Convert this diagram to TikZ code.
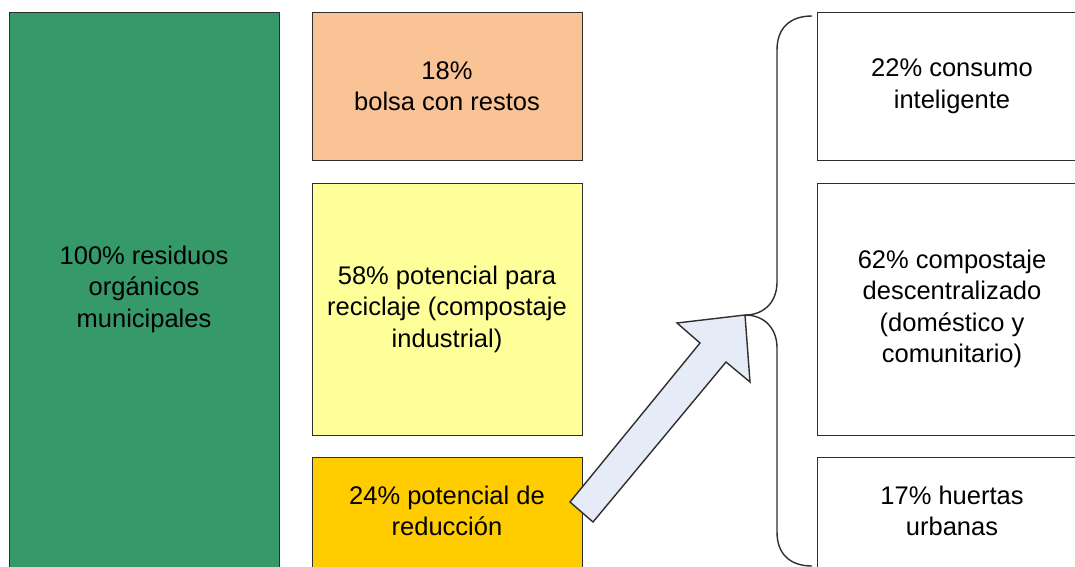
\documentclass[tikz,border=0pt]{standalone}
\usepackage{fontspec}
\setmainfont{Liberation Sans}
\definecolor{gverde}{HTML}{35996A}
\definecolor{gpeach}{HTML}{F9C396}
\definecolor{gyellow}{HTML}{FFFF99}
\definecolor{ggold}{HTML}{FFCC00}
\definecolor{garrow}{HTML}{E6ECF7}
\definecolor{gline}{HTML}{2E2E2E}
\begin{document}
\begin{tikzpicture}[x=1pt,y=-1pt,
  box/.style={draw=gline, line width=1.4pt, rectangle, anchor=north west, inner sep=0pt},
  txt/.style={align=center, font=\fontsize{25.5}{31.5}\selectfont, text=black, inner sep=0pt}]
\useasboundingbox (0,0) rectangle (1075,566);
\begin{scope}
\clip (0,0) rectangle (1075,566);
% left column
\node[box, fill=gverde, minimum width=270pt, minimum height=600pt] (g) at (9,12) {};
\node[txt] (gt) at (144,289) {100\% residuos\\orgánicos\\municipales};
% middle column
\node[box, fill=gpeach, minimum width=270pt, minimum height=148pt] (p) at (312,12) {};
\node[txt] (pt) at (447,86) {18\%\\bolsa con restos};
\node[box, fill=gyellow, minimum width=270pt, minimum height=252pt] (y) at (312,183) {};
\node[txt] (yt) at (447,309) {58\% potencial para\\reciclaje (compostaje\\industrial)};
\node[box, fill=ggold, minimum width=270pt, minimum height=200pt] (o) at (312,457) {};
\node[txt] (ot) at (447,511) {24\% potencial de\\reducción};
% right column
\node[box, fill=white, minimum width=300pt, minimum height=148pt] (r1) at (817,12) {};
\node[txt] (r1t) at (952,86) {22\% consumo\\inteligente};
\node[box, fill=white, minimum width=300pt, minimum height=252pt] (r2) at (817,183) {};
\node[txt] (r2t) at (952,309) {62\% compostaje\\descentralizado\\(doméstico y\\comunitario)};
\node[box, fill=white, minimum width=300pt, minimum height=200pt] (r3) at (817,457) {};
\node[txt] (r3t) at (952,511) {17\% huertas\\urbanas};
% brace
\coordinate (bt) at (812,16);
\coordinate (bm) at (745,315);
\coordinate (bb) at (812,566);
\draw[gline, line width=1.4pt]
  (bt) .. controls (790,16) and (777,28) .. (777,50)
  -- (777,282) .. controls (777,302) and (764,315) .. (bm)
  .. controls (764,315) and (777,328) .. (777,348)
  -- (777,532) .. controls (777,554) and (790,566) .. (bb);
% arrow
\draw[gline, line width=1.4pt, fill=garrow, line join=miter]
  (570,502) -- (593,522) -- (726,362) -- (750,382) -- (bm) -- (677,323) -- (700,343) -- cycle;
\end{scope}
\end{tikzpicture}
\end{document}
